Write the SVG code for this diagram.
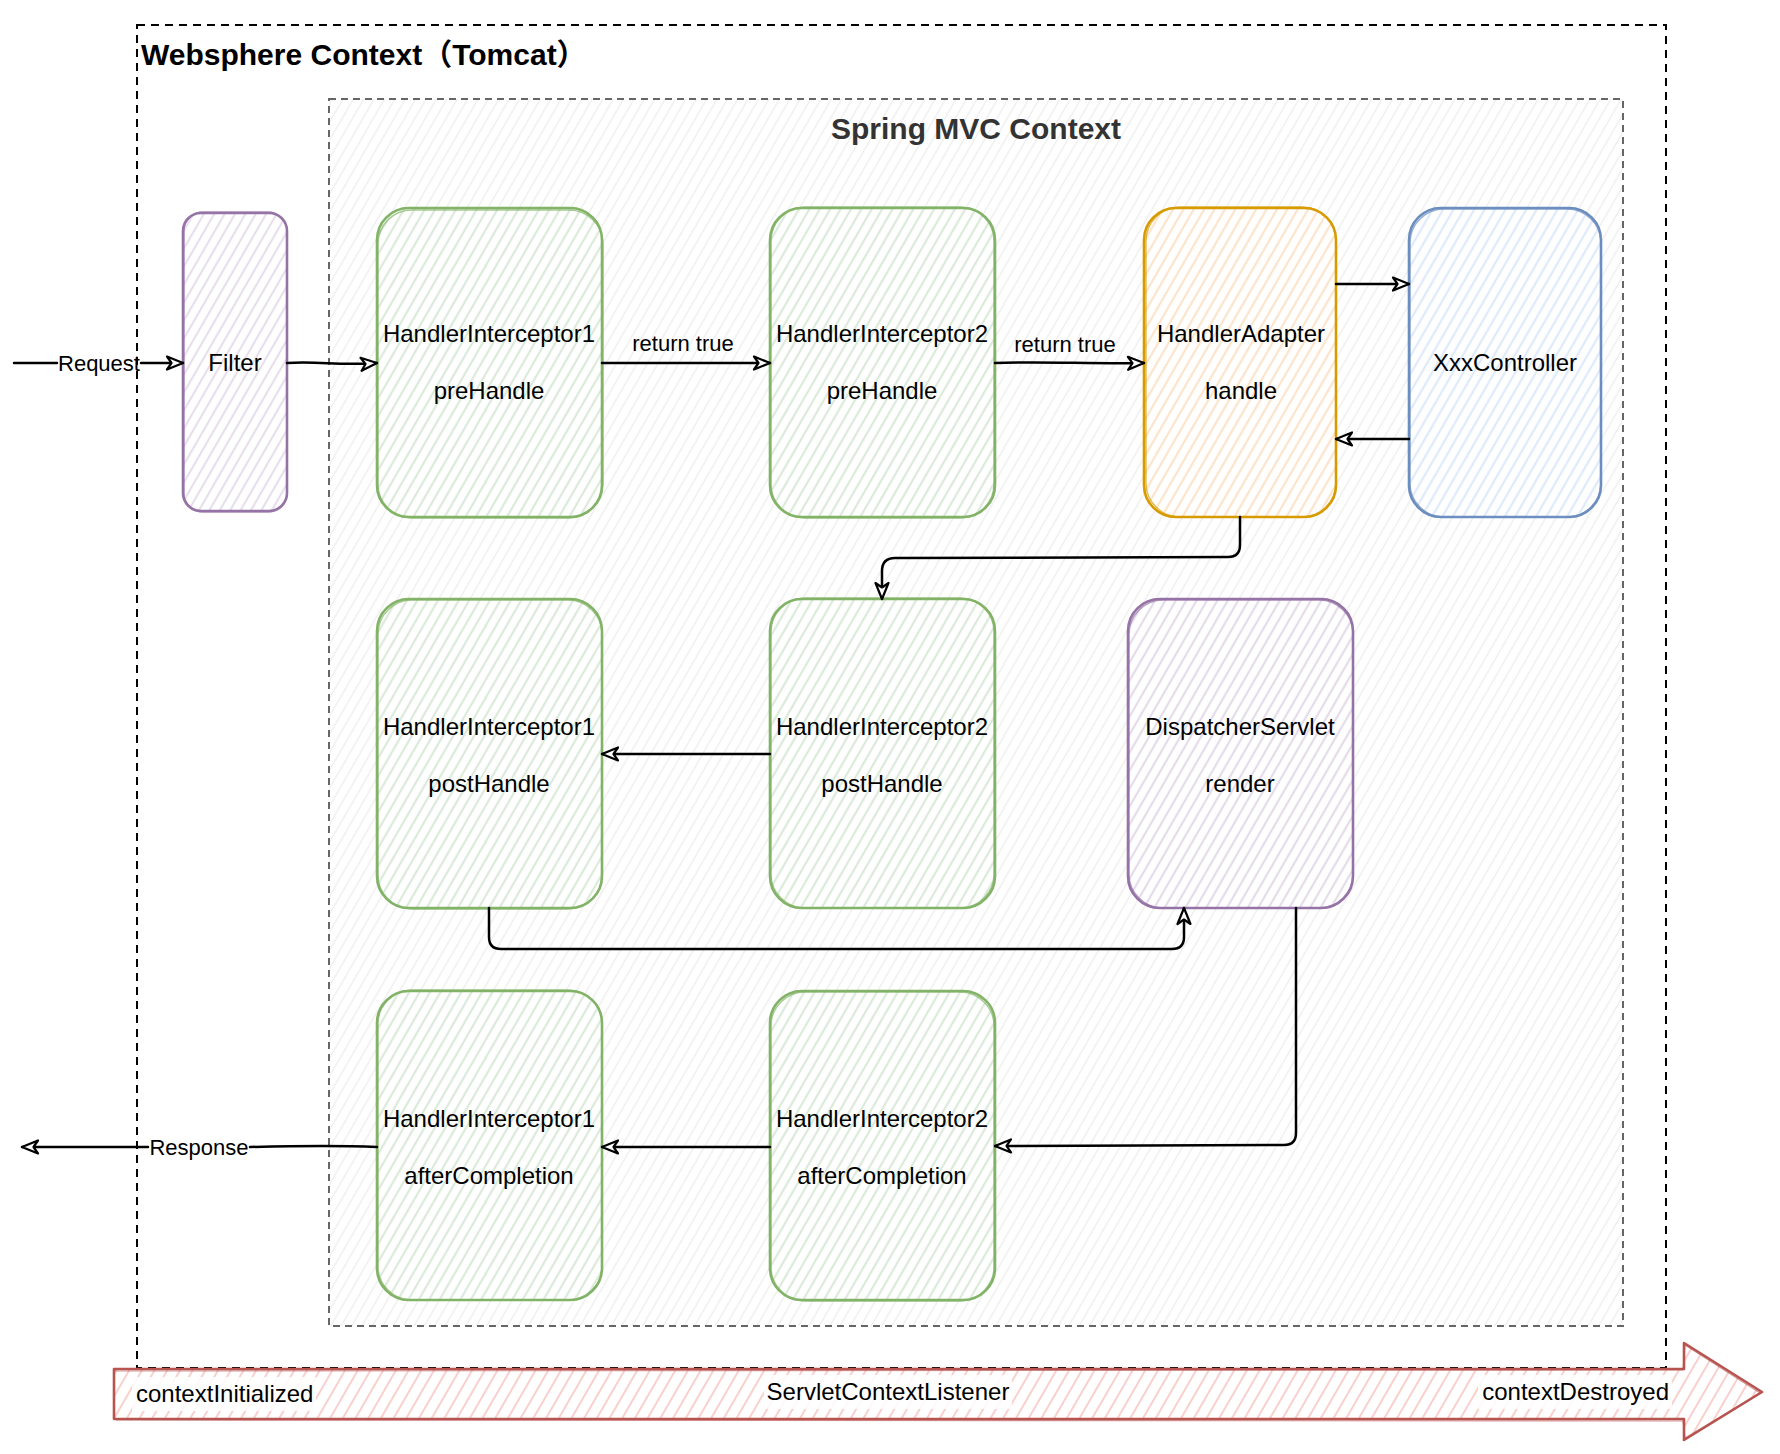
<svg xmlns="http://www.w3.org/2000/svg" width="1780" height="1454" viewBox="0 0 1780 1454">
  <style>
    text { font-family: "Liberation Sans", Arial, "Noto Sans CJK SC", sans-serif; fill: #000; }
    .lbl { font-size: 24px; text-anchor: middle; }
    .edge-lbl { font-size: 22px; text-anchor: middle; }
    .title { font-size: 30px; font-weight: bold; }
    .wire { fill: none; stroke: #000; stroke-width: 2.5; stroke-linecap: round; stroke-linejoin: round; }
    .arrow { marker-end: url(#open-arrow); }
    .node { stroke-width: 2.6; }
    .node2 { fill: none; stroke-width: 1.4; stroke-opacity: 0.7; }
    .green { stroke: #82b366; }
    .purple { stroke: #9673a6; }
    .orange { stroke: #d79b00; }
    .blue { stroke: #6c8ebf; }
  </style>
  <defs>
    <pattern id="h-green" width="9" height="9" patternUnits="userSpaceOnUse" patternTransform="rotate(30)">
      <line x1="4.5" y1="0" x2="4.5" y2="9" stroke="#d5e8d4" stroke-width="1.7"/>
    </pattern>
    <pattern id="h-purple" width="9" height="9" patternUnits="userSpaceOnUse" patternTransform="rotate(30)">
      <line x1="4.5" y1="0" x2="4.5" y2="9" stroke="#e1d5e7" stroke-width="1.7"/>
    </pattern>
    <pattern id="h-orange" width="9" height="9" patternUnits="userSpaceOnUse" patternTransform="rotate(30)">
      <line x1="4.5" y1="0" x2="4.5" y2="9" stroke="#ffe0c0" stroke-width="1.7"/>
    </pattern>
    <pattern id="h-blue" width="9" height="9" patternUnits="userSpaceOnUse" patternTransform="rotate(30)">
      <line x1="4.5" y1="0" x2="4.5" y2="9" stroke="#dae8fc" stroke-width="1.7"/>
    </pattern>
    <pattern id="h-red" width="11" height="11" patternUnits="userSpaceOnUse" patternTransform="rotate(30)">
      <line x1="5" y1="0" x2="5" y2="11" stroke="#f8cecc" stroke-width="1.9"/>
    </pattern>
    <pattern id="h-gray" width="9" height="9" patternUnits="userSpaceOnUse" patternTransform="rotate(30)">
      <line x1="4.5" y1="0" x2="4.5" y2="9" stroke="#ededed" stroke-width="1.4"/>
    </pattern>
    <marker id="open-arrow" markerWidth="22" markerHeight="18" refX="18" refY="8" orient="auto" markerUnits="userSpaceOnUse">
      <path d="M2,1.5 L18,8 L2,14.5 L6.5,8 Z" fill="#fff" stroke="#000" stroke-width="2.2" stroke-linejoin="round"/>
    </marker>
  </defs>

  <rect width="1780" height="1454" fill="#fff"/>

  <!-- Servlet container boundary -->
  <g id="websphere-context">
    <rect x="137" y="25" width="1529" height="1343" fill="none" stroke="#000" stroke-width="2" stroke-dasharray="8 6"/>
    <text class="title" x="141" y="65">Websphere Context（Tomcat）</text>
  </g>

  <!-- Spring MVC container -->
  <g id="spring-mvc-context">
    <rect x="329" y="99" width="1294" height="1227" fill="url(#h-gray)" stroke="#666" stroke-width="2" stroke-dasharray="7 5"/>
    <text class="title" x="976" y="139" text-anchor="middle" style="fill:#333">Spring MVC Context</text>
  </g>

  <!-- Lifecycle arrow -->
  <g id="servlet-context-listener">
    <path d="M114,1369 L1684,1369 L1684,1343 L1762,1392 L1684,1440 L1684,1419 L114,1419 Z" fill="url(#h-red)" stroke="#b85450" stroke-width="2.6" stroke-linejoin="round"/>
    <path d="M115,1371 L1683,1370 L1685,1345 L1760,1393 L1685,1438 L1683,1421 L116,1420" fill="none" stroke="#b85450" stroke-width="1.2" stroke-opacity="0.6"/>
    <rect x="132" y="1377" width="184" height="34" fill="#fff" fill-opacity="0.85"/>
    <rect x="764" y="1375" width="248" height="34" fill="#fff" fill-opacity="0.85"/>
    <rect x="1478" y="1375" width="194" height="34" fill="#fff" fill-opacity="0.85"/>
    <text x="136" y="1402" style="font-size:24px">contextInitialized</text>
    <text x="888" y="1400" style="font-size:24px" text-anchor="middle">ServletContextListener</text>
    <text x="1669" y="1400" style="font-size:24px" text-anchor="end">contextDestroyed</text>
  </g>

  <!-- Nodes -->
  <g id="filter">
    <rect class="node purple" x="183" y="213" width="104" height="298" rx="18" fill="url(#h-purple)"/>
    <rect class="node2 purple" x="184" y="212" width="103" height="300" rx="19"/>
    <text class="lbl" x="235" y="371">Filter</text>
  </g>

  <g id="hi1-prehandle">
    <rect class="node green" x="377" y="208" width="225" height="309" rx="32" fill="url(#h-green)"/>
    <rect class="node2 green" x="378" y="210" width="225" height="308" rx="34"/>
    <text class="lbl" x="489" y="342">HandlerInterceptor1</text>
    <text class="lbl" x="489" y="399">preHandle</text>
  </g>

  <g id="hi2-prehandle">
    <rect class="node green" x="770" y="208" width="225" height="309" rx="32" fill="url(#h-green)"/>
    <rect class="node2 green" x="771" y="207" width="223" height="311" rx="34"/>
    <text class="lbl" x="882" y="342">HandlerInterceptor2</text>
    <text class="lbl" x="882" y="399">preHandle</text>
  </g>

  <g id="handler-adapter">
    <rect class="node orange" x="1144" y="208" width="192" height="309" rx="32" fill="url(#h-orange)"/>
    <rect class="node2 orange" x="1146" y="207" width="190" height="310" rx="34"/>
    <text class="lbl" x="1241" y="342">HandlerAdapter</text>
    <text class="lbl" x="1241" y="399">handle</text>
  </g>

  <g id="xxx-controller">
    <rect class="node blue" x="1409" y="208" width="192" height="309" rx="32" fill="url(#h-blue)"/>
    <rect class="node2 blue" x="1410" y="209" width="191" height="308" rx="34"/>
    <text class="lbl" x="1505" y="371">XxxController</text>
  </g>

  <g id="hi1-posthandle">
    <rect class="node green" x="377" y="599" width="225" height="309" rx="32" fill="url(#h-green)"/>
    <rect class="node2 green" x="378" y="600" width="224" height="309" rx="34"/>
    <text class="lbl" x="489" y="735">HandlerInterceptor1</text>
    <text class="lbl" x="489" y="792">postHandle</text>
  </g>

  <g id="hi2-posthandle">
    <rect class="node green" x="770" y="599" width="225" height="309" rx="32" fill="url(#h-green)"/>
    <rect class="node2 green" x="771" y="598" width="223" height="310" rx="34"/>
    <text class="lbl" x="882" y="735">HandlerInterceptor2</text>
    <text class="lbl" x="882" y="792">postHandle</text>
  </g>

  <g id="dispatcher-servlet">
    <rect class="node purple" x="1128" y="599" width="225" height="309" rx="32" fill="url(#h-purple)"/>
    <rect class="node2 purple" x="1129" y="600" width="224" height="308" rx="34"/>
    <text class="lbl" x="1240" y="735">DispatcherServlet</text>
    <text class="lbl" x="1240" y="792">render</text>
  </g>

  <g id="hi1-aftercompletion">
    <rect class="node green" x="377" y="991" width="225" height="309" rx="32" fill="url(#h-green)"/>
    <rect class="node2 green" x="378" y="990" width="224" height="310" rx="34"/>
    <text class="lbl" x="489" y="1127">HandlerInterceptor1</text>
    <text class="lbl" x="489" y="1184">afterCompletion</text>
  </g>

  <g id="hi2-aftercompletion">
    <rect class="node green" x="770" y="991" width="225" height="309" rx="32" fill="url(#h-green)"/>
    <rect class="node2 green" x="771" y="992" width="223" height="309" rx="34"/>
    <text class="lbl" x="882" y="1127">HandlerInterceptor2</text>
    <text class="lbl" x="882" y="1184">afterCompletion</text>
  </g>

  <!-- Connectors -->
  <g id="connectors">
    <path class="wire" d="M14,363 L57,363"/>
    <path class="wire arrow" d="M141,363 L183,363"/>
    <text class="edge-lbl" x="99" y="371">Request</text>

    <path class="wire arrow" d="M287,363 C320,361 340,366 377,363"/>

    <path class="wire arrow" d="M602,363 L770,363"/>
    <text class="edge-lbl" x="683" y="351">return true</text>

    <path class="wire arrow" d="M995,363 C1040,361 1090,364 1144,363"/>
    <text class="edge-lbl" x="1065" y="352">return true</text>

    <path class="wire arrow" d="M1336,284 L1409,284"/>
    <path class="wire arrow" d="M1409,439 L1336,439"/>

    <path class="wire arrow" d="M1240,517 L1240,545 Q1240,557 1228,557 L895,558 Q882,558 882,571 L882,599"/>

    <path class="wire arrow" d="M770,754 L602,754"/>

    <path class="wire arrow" d="M489,908 L489,937 Q489,949 501,949 L1172,949 Q1184,949 1184,937 L1184,908"/>

    <path class="wire arrow" d="M1296,908 L1296,1133 Q1296,1145 1284,1145 L995,1146"/>

    <path class="wire arrow" d="M770,1147 L602,1147"/>

    <path class="wire" d="M377,1147 C330,1145 290,1146 250,1147"/>
    <path class="wire arrow" d="M148,1147 L22,1147"/>
    <text class="edge-lbl" x="199" y="1155">Response</text>
  </g>
</svg>
